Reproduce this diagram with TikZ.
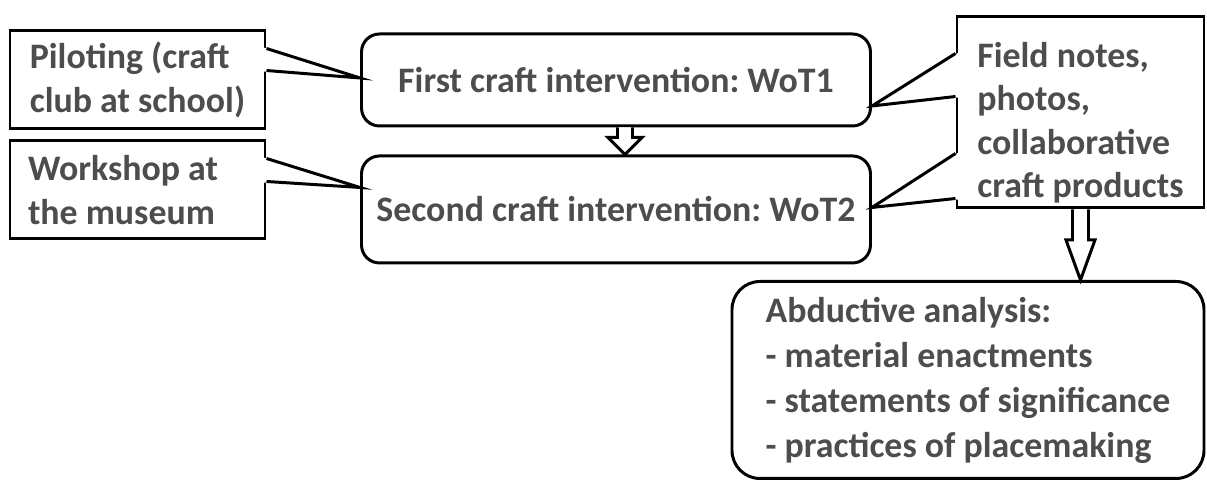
\documentclass[tikz,border=0pt]{standalone}
\usepackage{fontspec}
\setmainfont{Carlito}
\usepackage{xcolor}
\definecolor{textGray}{HTML}{4D4D4D}
\usepackage{tikz}
\usetikzlibrary{positioning, calc}
\frenchspacing
\tikzset{
  box/.style={draw=black, line width=0.85pt, fill=white, text=textGray, inner ysep=1pt,
    font=\fontsize{10.2}{12.4}\selectfont\bfseries},
  callout/.style={box, rectangle, align=flush left, inner xsep=2pt},
  phase/.style={box, rounded corners=1.8mm, minimum width=50.9mm, inner xsep=2pt},
  wedge/.style={line width=0.85pt, line join=miter},
  hollow/.style={draw=black, line width=0.85pt, fill=white, line join=miter}
}
% hollow block arrow pointing down: top, tip, shaft half width, head half width, head length
\newcommand{\hollowdown}[5]{%
  \draw[hollow] ($(#1)+(-#3,0)$) -- ($(#2)+(-#3,-#5)$) -- ($(#2)+(-#4,-#5)$) -- (#2)
    -- ($(#2)+(#4,-#5)$) -- ($(#2)+(#3,-#5)$) -- ($(#1)+(#3,0)$);}

\begin{document}
\begin{tikzpicture}[x=0.1mm, y=-0.1mm]
\useasboundingbox (0,0) rectangle (1207,480);

% data sources on the left
\node[callout, minimum width=25.5mm, minimum height=9.8mm] (pilot) at (137.5,80) {Piloting (craft\\club at school)};
\node[callout, text width=21.9mm, inner xsep=1.8mm, minimum height=9.8mm, below=0.9mm of pilot] (museum) {Workshop at\\the museum};

% the two interventions
\node[phase, minimum height=9.2mm] (first) at (616,80) {First craft intervention: WoT1};
\node[phase, minimum height=10.7mm, below=2.7mm of first] (second) {Second craft intervention: WoT2};

% material and analysis
\node[callout, minimum width=24.7mm, minimum height=19.1mm] (notes) at (1080.5,112.5) {\rule{0pt}{13pt}Field notes,\\photos,\\collaborative\\craft products};
\node[callout, rounded corners=2.8mm, minimum width=47.2mm, minimum height=19.7mm,
  font=\fontsize{10.2}{12.8}\selectfont\bfseries] (analysis) at (968,380)
  {Abductive analysis:\\- material enactments\\- statements of significance\\- practices of placemaking};

% callout pointers
\coordinate (pilotTip) at ($(first.west)+(0,-2)$);
\coordinate (museumTip) at ($(second.west)+(0,-22)$);
\coordinate (notesTipA) at ($(first.east)+(0,26)$);
\coordinate (notesTipB) at ($(second.east)+(0,-2)$);

\fill[white] ($(pilot.north east)+(-3,18)$) -- (pilotTip) -- ($(pilot.north east)+(-3,42)$) -- cycle;
\draw[wedge] ($(pilot.north east)+(0,19)$) -- (pilotTip) -- ($(pilot.north east)+(0,41)$);
\fill[white] ($(museum.north east)+(-3,18)$) -- (museumTip) -- ($(museum.north east)+(-3,43)$) -- cycle;
\draw[wedge] ($(museum.north east)+(0,19)$) -- (museumTip) -- ($(museum.north east)+(0,42)$);
\fill[white] ($(notes.north west)+(3,37)$) -- (notesTipA) -- ($(notes.north west)+(3,82)$) -- cycle;
\draw[wedge] ($(notes.north west)+(0,38)$) -- (notesTipA) -- ($(notes.north west)+(0,81)$);
\fill[white] ($(notes.north west)+(3,137)$) -- (notesTipB) -- ($(notes.north west)+(3,184)$) -- cycle;
\draw[wedge] ($(notes.north west)+(0,138)$) -- (notesTipB) -- ($(notes.north west)+(0,183)$);

% arrows
\coordinate (smallTop) at ($(first.south)+(9,0)$);
\coordinate (smallTip) at (smallTop |- second.north);
\hollowdown{smallTop}{smallTip}{7.5}{17}{17}
\coordinate (bigTip) at (notes.south |- analysis.north);
\hollowdown{notes.south}{bigTip}{8}{14.5}{40}
\end{tikzpicture}
\end{document}
